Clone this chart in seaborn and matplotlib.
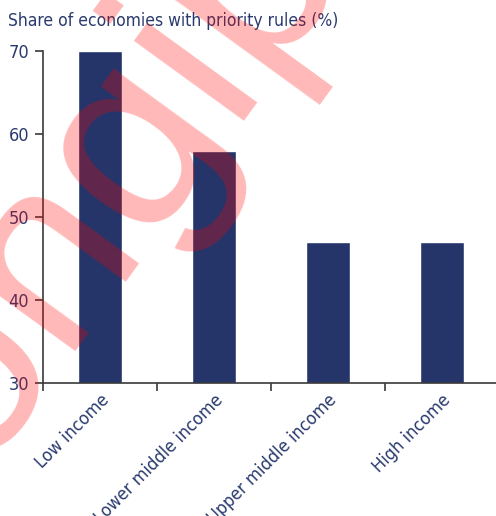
import matplotlib
matplotlib.use("Agg")
import matplotlib.pyplot as plt
from matplotlib import font_manager
import seaborn as sns
import pandas as pd

# data
categories = ["Low income", "Lower middle income", "Upper middle income", "High income"]
shares = [70, 58, 47, 47]
y_ticks = [30, 40, 50, 60, 70]

bar_colour = "#253569"
text_colour = "#2a3a6e"
axis_colour = "#3a3a3a"

sns.set_theme(style="white")

# look for a narrow face, the reference uses a condensed sans
fonts = [(f.name, f.stretch) for f in font_manager.fontManager.ttflist]
label_font = {"family": "Lato"}
if any(n == "Liberation Sans Narrow" for n, s in fonts):
    label_font = {"family": "Liberation Sans Narrow"}
elif any(n == "DejaVu Sans" and s in ("condensed", "semi-condensed") for n, s in fonts):
    label_font = {"family": "DejaVu Sans", "stretch": "condensed"}
plt.rcParams['font.family'] = [label_font["family"], 'DejaVu Sans']
if "stretch" in label_font:
    plt.rcParams['font.stretch'] = label_font["stretch"]

df = pd.DataFrame({"Group": categories, "Share": shares})

fig = plt.figure(figsize=(4.96, 5.16), dpi=100)
ax = fig.add_axes([43 / 496, 1 - 383 / 516, 1 - 43 / 496 + 0.006, (383 - 51) / 516])

sns.barplot(data=df, x="Group", y="Share", color=bar_colour, saturation=1,
            width=0.38, ax=ax, zorder=2)

ax.set_ylim(30, 70)
ax.set_xlim(-0.5, 3.5)
ax.set_yticks(y_ticks)
ax.set_yticklabels([str(v) for v in y_ticks], fontsize=13, color=text_colour)
ax.set_xlabel("")
ax.set_ylabel("")

# ticks between categories, labels at centres
ax.set_xticks([-0.5, 0.5, 1.5, 2.5])
ax.set_xticklabels([])
ax.set_xticks(range(len(categories)), minor=True)
ax.set_xticklabels(categories, minor=True, rotation=45, ha="right",
                   rotation_mode="anchor", fontsize=13, color=text_colour)
ax.tick_params(axis="x", which="minor", length=0, pad=6)
ax.tick_params(axis="x", which="major", direction="out", length=6, width=1.2, color=axis_colour, bottom=True)
ax.tick_params(axis="y", direction="out", length=6, width=1.2, color=axis_colour, left=True, pad=4)

for side in ["top", "right"]:
    ax.spines[side].set_visible(False)
for side in ["left", "bottom"]:
    ax.spines[side].set_color(axis_colour)
    ax.spines[side].set_linewidth(1.2)

fig.text(8 / 496, 1 - 21 / 516, "Share of economies with priority rules (%)",
         fontsize=12.5, color=text_colour, ha="left", va="center")

# watermark fragment, drawn over the chart
fig.text(-0.045, 0.085, "ongip", fontsize=185, color="red", alpha=0.28,
         rotation=54, rotation_mode="anchor", ha="left", va="baseline",
         family="Liberation Sans", stretch="normal", zorder=10)

fig.savefig("out.png", dpi=100)
